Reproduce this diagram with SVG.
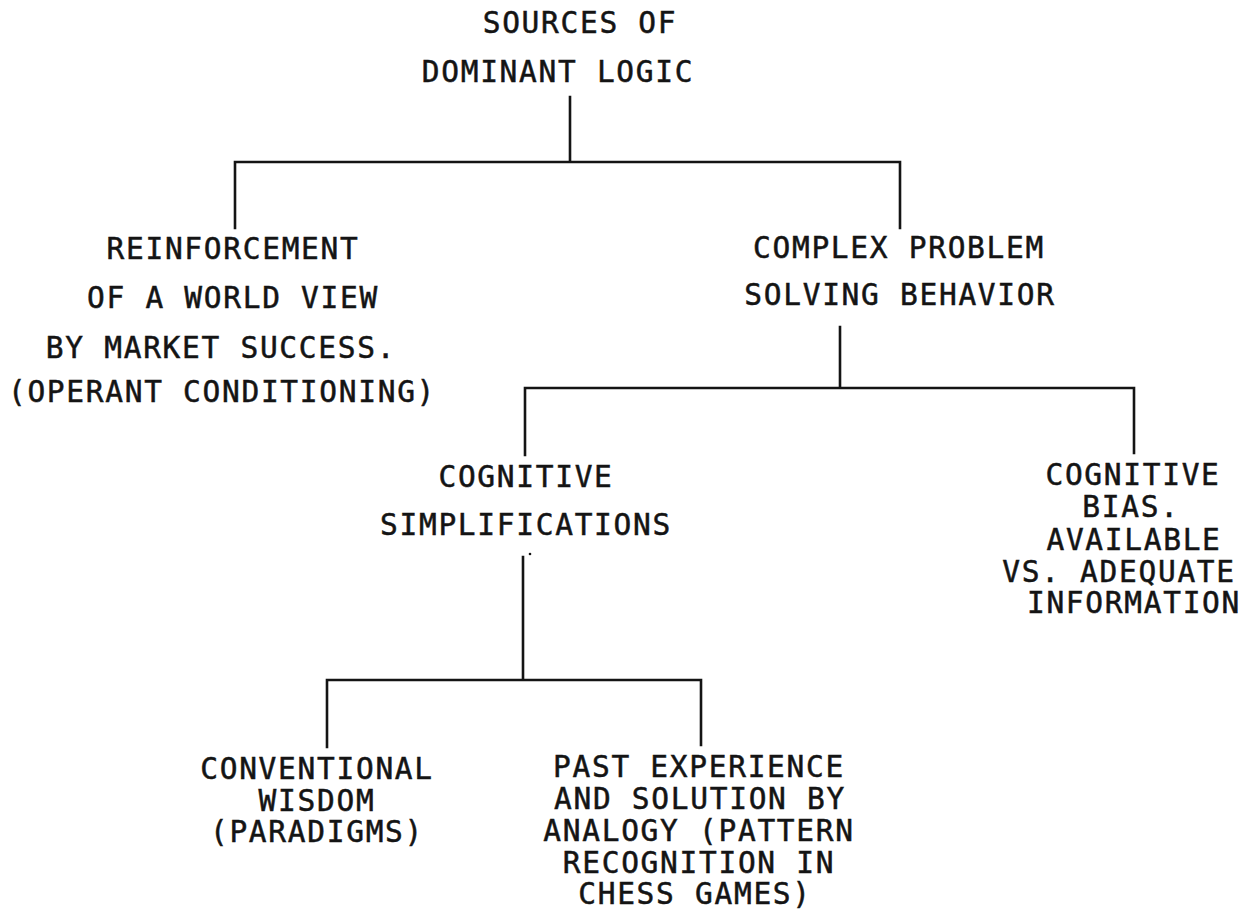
<svg xmlns="http://www.w3.org/2000/svg" width="1256" height="911" viewBox="0 0 1256 911">
<style>
  .t { font-family: "DejaVu Sans Mono", "Liberation Mono", monospace; font-size: 29.5px; letter-spacing: 1.7px; fill: #141414; stroke: #141414; stroke-width: 0.5px; text-anchor: middle; }
  .c { stroke: #141414; stroke-width: 2.6; fill: none; stroke-linecap: square; }
</style>
<rect width="1256" height="911" fill="#ffffff"/>
<g id="connectors">
  <path class="c" d="M570 97 V162 M235 228 V162 H900 V228"/>
  <path class="c" d="M840 327 V388 M525 455 V388 H1134 V453"/>
  <path class="c" d="M523 557 V680 M327 747 V680 H701 V745"/>
  <circle cx="530" cy="554" r="1.3" fill="#141414"/>
</g>
<g id="node-root">
  <text class="t" x="580" y="33">SOURCES OF</text>
  <text class="t" x="558" y="82">DOMINANT LOGIC</text>
</g>
<g id="node-reinforcement">
  <text class="t" x="233" y="259">REINFORCEMENT</text>
  <text class="t" x="233" y="308">OF A WORLD VIEW</text>
  <text class="t" x="221" y="358">BY MARKET SUCCESS.</text>
  <text class="t" x="222" y="402">(OPERANT CONDITIONING)</text>
</g>
<g id="node-complex">
  <text class="t" x="899" y="258">COMPLEX PROBLEM</text>
  <text class="t" x="900" y="305">SOLVING BEHAVIOR</text>
</g>
<g id="node-simplifications">
  <text class="t" x="526" y="487">COGNITIVE</text>
  <text class="t" x="526" y="535">SIMPLIFICATIONS</text>
</g>
<g id="node-bias">
  <text class="t" x="1133" y="485">COGNITIVE</text>
  <text class="t" x="1131" y="517">BIAS.</text>
  <text class="t" x="1134" y="550">AVAILABLE</text>
  <text class="t" x="1119" y="582">VS. ADEQUATE</text>
  <text class="t" x="1134" y="613">INFORMATION</text>
</g>
<g id="node-conventional">
  <text class="t" x="317" y="779">CONVENTIONAL</text>
  <text class="t" x="317" y="811">WISDOM</text>
  <text class="t" x="317" y="842">(PARADIGMS)</text>
</g>
<g id="node-past">
  <text class="t" x="699" y="777">PAST EXPERIENCE</text>
  <text class="t" x="700" y="809">AND SOLUTION BY</text>
  <text class="t" x="699" y="841">ANALOGY (PATTERN</text>
  <text class="t" x="699" y="873">RECOGNITION IN</text>
  <text class="t" x="695" y="904">CHESS GAMES)</text>
</g>
</svg>
